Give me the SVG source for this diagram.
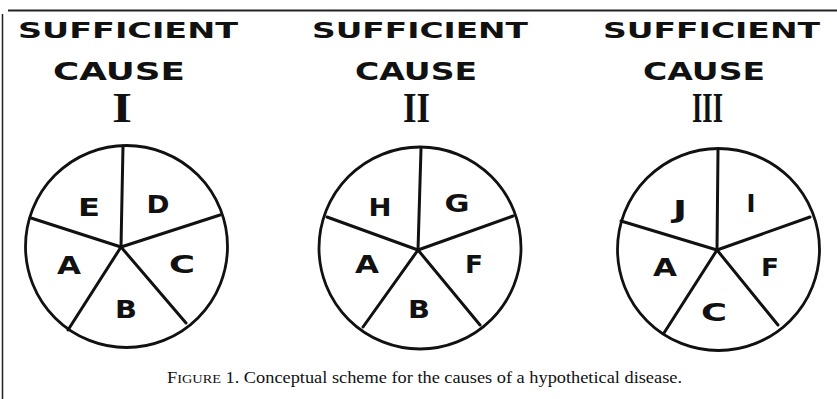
<svg xmlns="http://www.w3.org/2000/svg" width="837" height="399" viewBox="0 0 837 399">
<style>
.title{font-family:"DejaVu Sans","Liberation Sans",sans-serif;font-weight:bold;fill:#111}
.t1{font-size:22px}
.t2{font-size:24.5px}
.rom{font-family:"Liberation Serif","DejaVu Serif",serif;font-weight:bold;font-size:43px;fill:#111}
.lbl{font-family:"DejaVu Sans","Liberation Sans",sans-serif;font-weight:bold;font-size:24px;fill:#111;text-anchor:middle}
.rim{fill:#fff;stroke:#111;stroke-width:2.8}
.spoke{stroke:#111;stroke-width:3;stroke-linecap:round;fill:none}
.cap{font-family:"Liberation Serif","Times New Roman",serif;font-size:16px;fill:#111}
.frame{stroke:#222;fill:none}
</style>
<rect width="837" height="399" fill="#fff"/>
<g id="frame">
<line class="frame" x1="8" y1="10.5" x2="837" y2="10.5" stroke-width="2"/>
<line class="frame" x1="2.5" y1="14" x2="2.5" y2="399" stroke-width="1.5"/>
</g>
<g id="cause-1">
<text class="title t1" x="18" y="38" textLength="220" lengthAdjust="spacingAndGlyphs">SUFFICIENT</text>
<text class="title t2" x="53" y="80" textLength="132" lengthAdjust="spacingAndGlyphs">CAUSE</text>
<text class="rom" x="112" y="122" textLength="20" lengthAdjust="spacingAndGlyphs">I</text>
<circle class="rim" cx="126.5" cy="246.5" r="101"/>
<g class="spokes">
<line class="spoke" x1="121" y1="247" x2="123" y2="146"/>
<line class="spoke" x1="121" y1="247" x2="220" y2="215"/>
<line class="spoke" x1="121" y1="247" x2="31" y2="218"/>
<line class="spoke" x1="121" y1="247" x2="68" y2="330"/>
<line class="spoke" x1="121" y1="247" x2="186" y2="323"/>
</g>
<text class="lbl" x="89" y="215.5" textLength="22" lengthAdjust="spacingAndGlyphs">E</text>
<text class="lbl" x="158" y="212.5" textLength="23" lengthAdjust="spacingAndGlyphs">D</text>
<text class="lbl" x="182" y="272.5" textLength="26" lengthAdjust="spacingAndGlyphs">C</text>
<text class="lbl" x="126" y="317.5" textLength="22" lengthAdjust="spacingAndGlyphs">B</text>
<text class="lbl" x="69" y="273.5" textLength="24" lengthAdjust="spacingAndGlyphs">A</text>
</g>
<g id="cause-2">
<text class="title t1" x="312" y="38" textLength="216" lengthAdjust="spacingAndGlyphs">SUFFICIENT</text>
<text class="title t2" x="355" y="80" textLength="122" lengthAdjust="spacingAndGlyphs">CAUSE</text>
<text class="rom" x="403" y="122" textLength="27" lengthAdjust="spacingAndGlyphs">II</text>
<circle class="rim" cx="420" cy="248" r="101"/>
<g class="spokes">
<line class="spoke" x1="418" y1="250" x2="421" y2="149"/>
<line class="spoke" x1="418" y1="250" x2="513" y2="216"/>
<line class="spoke" x1="418" y1="250" x2="327" y2="217"/>
<line class="spoke" x1="418" y1="250" x2="363" y2="327"/>
<line class="spoke" x1="418" y1="250" x2="480" y2="325"/>
</g>
<text class="lbl" x="380" y="215.5" textLength="23" lengthAdjust="spacingAndGlyphs">H</text>
<text class="lbl" x="457" y="211.5" textLength="25" lengthAdjust="spacingAndGlyphs">G</text>
<text class="lbl" x="474" y="272.5" textLength="18" lengthAdjust="spacingAndGlyphs">F</text>
<text class="lbl" x="419" y="317.5" textLength="22" lengthAdjust="spacingAndGlyphs">B</text>
<text class="lbl" x="367" y="272.5" textLength="24" lengthAdjust="spacingAndGlyphs">A</text>
</g>
<g id="cause-3">
<text class="title t1" x="603" y="38" textLength="217" lengthAdjust="spacingAndGlyphs">SUFFICIENT</text>
<text class="title t2" x="643" y="80" textLength="122" lengthAdjust="spacingAndGlyphs">CAUSE</text>
<text class="rom" x="692" y="122" textLength="31" lengthAdjust="spacingAndGlyphs">III</text>
<circle class="rim" cx="718.5" cy="249.5" r="101"/>
<g class="spokes">
<line class="spoke" x1="717" y1="250" x2="718" y2="150"/>
<line class="spoke" x1="717" y1="250" x2="810" y2="217"/>
<line class="spoke" x1="717" y1="250" x2="621" y2="221"/>
<line class="spoke" x1="717" y1="250" x2="664" y2="333"/>
<line class="spoke" x1="717" y1="250" x2="778" y2="325"/>
</g>
<text class="lbl" x="680" y="217.5" textLength="14" lengthAdjust="spacingAndGlyphs">J</text>
<text class="lbl" x="751" y="211.5">I</text>
<text class="lbl" x="770" y="275.5" textLength="18" lengthAdjust="spacingAndGlyphs">F</text>
<text class="lbl" x="714" y="320.5" textLength="26" lengthAdjust="spacingAndGlyphs">C</text>
<text class="lbl" x="665" y="275.5" textLength="24" lengthAdjust="spacingAndGlyphs">A</text>
</g>
<g id="caption">
<text class="cap" x="167" y="383" textLength="515" lengthAdjust="spacingAndGlyphs">F<tspan font-size="12.5">IGURE</tspan> 1. Conceptual scheme for the causes of a hypothetical disease.</text>
</g>
</svg>
